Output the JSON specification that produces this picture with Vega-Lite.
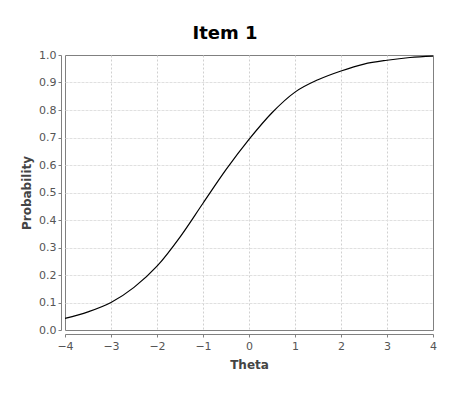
{
  "$schema": "https://vega.github.io/schema/vega-lite/v6.json",
  "width": 368,
  "height": 275,
  "autosize": {"type": "none"},
  "padding": {"left": 65, "top": 55, "right": 17, "bottom": 70},
  "background": "white",
  "title": {
    "text": "Item 1",
    "font": "DejaVu Sans",
    "fontSize": 18,
    "fontWeight": "bold",
    "color": "black",
    "anchor": "middle",
    "dx": -24,
    "offset": 6
  },
  "config": {
    "view": {"stroke": "#808080", "strokeWidth": 1}
  },
  "data": {
    "values": [
      {"theta": -4.0, "p": 0.042},
      {"theta": -3.5, "p": 0.066},
      {"theta": -3.0, "p": 0.1},
      {"theta": -2.5, "p": 0.155},
      {"theta": -2.0, "p": 0.232},
      {"theta": -1.5, "p": 0.338},
      {"theta": -1.0, "p": 0.461},
      {"theta": -0.5, "p": 0.583},
      {"theta": 0.0, "p": 0.693},
      {"theta": 0.5, "p": 0.79},
      {"theta": 1.0, "p": 0.865},
      {"theta": 1.5, "p": 0.91},
      {"theta": 2.0, "p": 0.942},
      {"theta": 2.5, "p": 0.967},
      {"theta": 3.0, "p": 0.981},
      {"theta": 3.5, "p": 0.991},
      {"theta": 4.0, "p": 0.996}
    ]
  },
  "mark": {"type": "line", "color": "black", "strokeWidth": 1.2, "interpolate": "monotone"},
  "encoding": {
    "x": {
      "field": "theta",
      "type": "quantitative",
      "scale": {"domain": [-4, 4], "nice": false, "zero": false},
      "axis": {
        "title": "Theta",
        "values": [-4, -3, -2, -1, 0, 1, 2, 3, 4],
        "format": "d",
        "offset": 4,
        "domainColor": "#808080",
        "tickColor": "#808080",
        "tickSize": 3,
        "labelPadding": 3,
        "labelFont": "DejaVu Sans",
        "labelFontSize": 11,
        "labelColor": "#555555",
        "labelFlush": false,
        "titleFont": "DejaVu Sans",
        "titleFontSize": 12,
        "titleFontWeight": "bold",
        "titleColor": "#444444",
        "titlePadding": 8,
        "grid": true,
        "gridColor": {"condition": {"test": "datum.value == -4 || datum.value == 4", "value": "transparent"}, "value": "#d0d0d0"},
        "gridDash": [2, 2]
      }
    },
    "y": {
      "field": "p",
      "type": "quantitative",
      "scale": {"domain": [0, 1], "nice": false},
      "axis": {
        "title": "Probability",
        "values": [0, 0.1, 0.2, 0.3, 0.4, 0.5, 0.6, 0.7, 0.8, 0.9, 1.0],
        "format": ".1f",
        "offset": 4,
        "domainColor": "#808080",
        "tickColor": "#808080",
        "tickSize": 3,
        "labelPadding": 2,
        "labelFont": "DejaVu Sans",
        "labelFontSize": 11,
        "labelColor": "#555555",
        "labelFlush": false,
        "titleFont": "DejaVu Sans",
        "titleFontSize": 12,
        "titleFontWeight": "bold",
        "titleColor": "#444444",
        "titlePadding": 5,
        "grid": true,
        "gridColor": {"condition": {"test": "datum.value == 0 || datum.value == 1", "value": "transparent"}, "value": "#e0e0e0"},
        "gridDash": [3, 1]
      }
    }
  }
}
